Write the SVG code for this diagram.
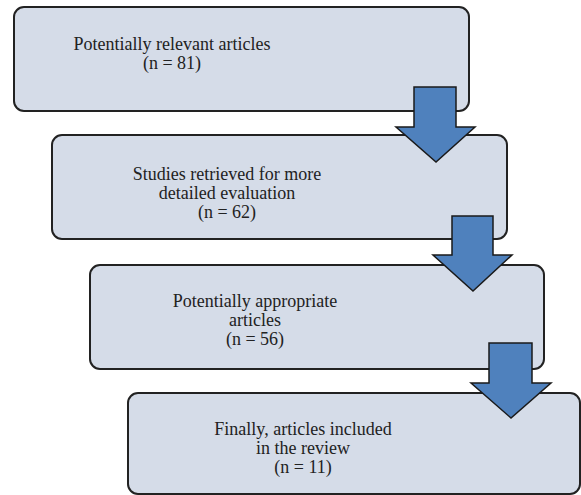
<svg xmlns="http://www.w3.org/2000/svg" width="581" height="495" viewBox="0 0 581 495">
<style>
.box{fill:#D5DCE8;stroke:#222;stroke-width:2}
.arr{fill:#4F81BD;stroke:#1a1a1a;stroke-width:1.5;stroke-linejoin:miter}
.t{font-family:'Liberation Serif','Times New Roman',Times,serif;font-size:18px;fill:#222;text-anchor:middle}
</style>
<rect width="581" height="495" fill="#fff"/>
<g id="n1"><rect class="box" x="14" y="7" width="455" height="104" rx="10"/>
<text class="t" x="172" y="50">Potentially relevant articles</text><text class="t" x="172" y="69">(n = 81)</text></g>
<g id="n2"><rect class="box" x="52" y="135" width="455" height="104" rx="10"/>
<text class="t" x="227" y="180">Studies retrieved for more</text><text class="t" x="227" y="199">detailed evaluation</text><text class="t" x="227" y="218">(n = 62)</text></g>
<g id="n3"><rect class="box" x="90" y="265" width="454" height="104" rx="10"/>
<text class="t" x="255" y="307">Potentially appropriate</text><text class="t" x="255" y="326">articles</text><text class="t" x="255" y="345">(n = 56)</text></g>
<g id="n4"><rect class="box" x="128" y="393" width="452" height="101" rx="10"/>
<text class="t" x="303" y="435">Finally, articles included</text><text class="t" x="303" y="454">in the review</text><text class="t" x="303" y="473">(n = 11)</text></g>
<g id="connectors">
<polygon class="arr" points="414,87 456,87 456,127 475,127 436,162 396,127 414,127"/>
<polygon class="arr" points="452,216 493,216 493,255 512,255 473,291 433,255 452,255"/>
<polygon class="arr" points="489,343 532,343 532,383 551,383 511,418 471,383 489,383"/>
</g>
</svg>
